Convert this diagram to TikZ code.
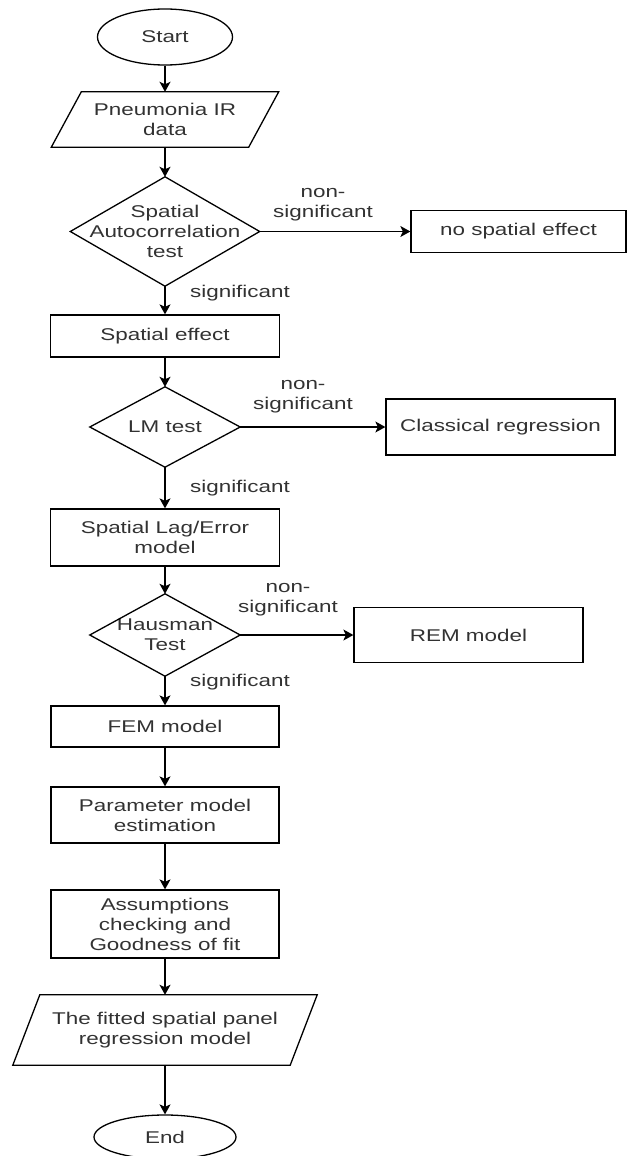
\documentclass[tikz,border=0pt]{standalone}
\usepackage{fontspec}
\setmainfont{Liberation Sans}[FakeStretch=1.32]
\usetikzlibrary{arrows.meta,shapes.geometric,calc}
\definecolor{txt}{RGB}{50,50,50}
\begin{document}
\begin{tikzpicture}[x=1pt,y=-1pt,
  every node/.style={font=\fontsize{17}{20}\selectfont, text=txt, align=center, inner sep=0pt},
  shapeline/.style={draw=black, line width=1.3pt, line join=miter},
  box/.style={shapeline, rectangle, minimum width=229pt},
  term/.style={shapeline, ellipse, minimum width=135pt, minimum height=56pt},
  holder/.style={rectangle},
  arr/.style={line width=1.3pt, draw=black, -{Stealth[length=10pt,width=11pt,inset=2.5pt]}}
]
\useasboundingbox (0,0) rectangle (627,1156);

% main column
\node[term] (start) at (165,37) {Start};
\node[holder, minimum width=197pt, minimum height=55pt] (data) at (165,119.5) {Pneumonia IR\\data};
\draw[shapeline] ($(data.north west)+(15,0)$) -- ($(data.north east)+(15,0)$) -- ($(data.south east)+(-15,0)$) -- ($(data.south west)+(-15,0)$) -- cycle;

\node[holder, minimum width=189pt, minimum height=109pt] (sat) at (165,231.5) {Spatial\\Autocorrelation\\test};
\draw[shapeline] (sat.north) -- (sat.east) -- (sat.south) -- (sat.west) -- cycle;

\node[box, minimum height=42pt] (se) at (165,336) {Spatial effect};

\node[holder, minimum width=150pt, minimum height=80pt] (lm) at (165,427) {LM test};
\draw[shapeline] (lm.north) -- (lm.east) -- (lm.south) -- (lm.west) -- cycle;

\node[box, minimum height=57pt] (sle) at (165,537.5) {Spatial Lag/Error\\model};

\node[holder, minimum width=150pt, minimum height=82pt] (haus) at (165,635) {Hausman\\Test};
\draw[shapeline] (haus.north) -- (haus.east) -- (haus.south) -- (haus.west) -- cycle;

\node[box, minimum width=228pt, minimum height=41pt] (fem) at (165,726.5) {FEM model};
\node[box, minimum width=228pt, minimum height=56pt] (pme) at (165,815) {Parameter model\\estimation};
\node[box, minimum width=228pt, minimum height=68pt] (acg) at (165,924) {Assumptions\\checking and\\Goodness of fit};

\node[holder, minimum width=277pt, minimum height=70pt] (fit) at (165,1030) {The fitted spatial panel\\regression model};
\draw[shapeline] ($(fit.north west)+(13.5,0)$) -- ($(fit.north east)+(13.5,0)$) -- ($(fit.south east)+(-13.5,0)$) -- ($(fit.south west)+(-13.5,0)$) -- cycle;

\node[term, minimum width=142pt, minimum height=44pt] (end) at (165,1137) {End};

% right column
\node[box, minimum width=215pt, minimum height=42pt] (nse) at (518.5,231.5) {no spatial effect};
\node[box, minimum height=56pt] (cr) at (500.5,427) {Classical regression};
\node[box, minimum height=55pt] (rem) at (468.5,635) {REM model};

% labels
\node (l1) at (323,205) {non-\\significant};
\node (s1) at (240,293) {significant};
\node (l2) at (303,397) {non-\\significant};
\node (s2) at (240,488) {significant};
\node (l3) at (288,600) {non-\\significant};
\node (s3) at (240,682) {significant};

% connectors
\draw[arr] (start.south) -- (data.north);
\draw[arr] (data.south) -- (sat.north);
\draw[arr] (sat.east) -- (nse.west);
\draw[arr] (sat.south) -- (se.north);
\draw[arr] (se.south) -- (lm.north);
\draw[arr] (lm.east) -- (cr.west);
\draw[arr] (lm.south) -- (sle.north);
\draw[arr] (sle.south) -- (haus.north);
\draw[arr] (haus.east) -- (rem.west);
\draw[arr] (haus.south) -- (fem.north);
\draw[arr] (fem.south) -- (pme.north);
\draw[arr] (pme.south) -- (acg.north);
\draw[arr] (acg.south) -- (fit.north);
\draw[arr] (fit.south) -- (end.north);
\end{tikzpicture}
\end{document}
